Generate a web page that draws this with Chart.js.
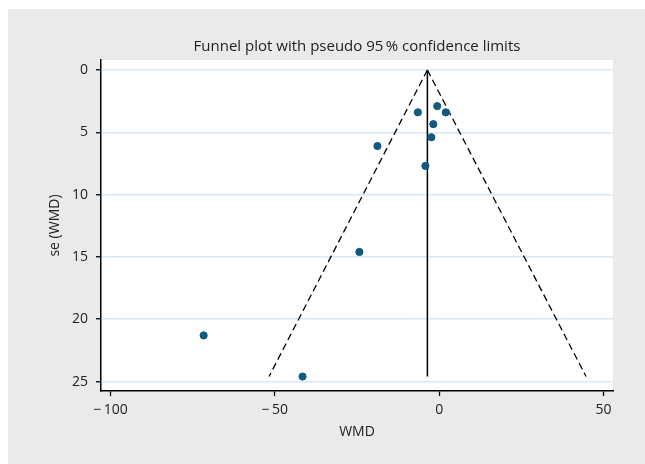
<!DOCTYPE html>
<html>
<head>
<meta charset="utf-8">
<script src="https://cdn.jsdelivr.net/npm/chart.js@4"></script>
<style>
  body { margin: 0; background: #fff; }
  canvas { display: block; }
</style>
</head>
<body>
<canvas id="funnelChart" width="645" height="464"></canvas>
<script>
// study estimates
var studyWmd = [-71.7, -41.6, -24.3, -18.8, -6.5, -0.6, 2.0, -1.8, -2.4, -4.2];
var studySe  = [21.3, 24.6, 14.6, 6.1, 3.4, 2.9, 3.4, 4.35, 5.4, 7.7];

// pooled estimate line and pseudo 95% limits
var pooledX = [-3.6, -3.6];
var pooledY = [0, 24.6];
var lowerX = [-3.6, -51.8];
var lowerY = [0, 24.6];
var upperX = [-3.6, 44.7];
var upperY = [0, 24.6];

var yTicks = [0, 5, 10, 15, 20, 25];
var xTicks = [-100, -50, 0, 50];
var xTickLabels = ['\u2212\u2009100', '\u2212\u200950', '0', '50'];

var titleText = 'Funnel plot with pseudo 95\u2009% confidence limits';
var xTitle = 'WMD';
var yTitle = 'se (WMD)';

var fontFamily = '"Open Sans", "DejaVu Sans", sans-serif';

function toPoints(xs, ys) {
    return xs.map(function (x, i) { return { x: x, y: ys[i] }; });
}

var backgroundPlugin = {
    id: 'stataBackground',
    beforeDraw: function (chart) {
        var ctx = chart.ctx;
        var a = chart.chartArea;
        ctx.save();
        ctx.fillStyle = '#ffffff';
        ctx.fillRect(0, 0, chart.width, chart.height);
        ctx.fillStyle = '#eaeaea';
        ctx.fillRect(8, 9, chart.width - 8, chart.height - 9);
        ctx.fillStyle = '#ffffff';
        ctx.fillRect(a.left, a.top, a.right - a.left, a.bottom - a.top);
        ctx.restore();
    },
    afterDraw: function (chart) {
        var ctx = chart.ctx;
        var a = chart.chartArea;
        ctx.save();
        ctx.fillStyle = '#222';
        ctx.textAlign = 'center';
        ctx.textBaseline = 'middle';
        ctx.font = '15px ' + fontFamily;
        ctx.fillText(titleText, (a.left + a.right) / 2, 47);
        ctx.font = '14px ' + fontFamily;
        ctx.fillText(xTitle, (a.left + a.right) / 2, 432);
        ctx.translate(55, (a.top + a.bottom) / 2);
        ctx.rotate(-Math.PI / 2);
        ctx.fillText(yTitle, 0, 0);
        ctx.restore();
    }
};

var ctx = document.getElementById('funnelChart').getContext('2d');
var funnelChart = new Chart(ctx, {
    type: 'scatter',
    data: {
        datasets: [{
            label: 'Studies',
            data: toPoints(studyWmd, studySe),
            backgroundColor: '#0f5a7e',
            borderColor: '#0f5a7e',
            pointRadius: 3.6,
            pointHoverRadius: 3.6,
            showLine: false
        }, {
            label: 'Pooled',
            data: toPoints(pooledX, pooledY),
            showLine: true,
            borderColor: '#000',
            borderWidth: 1.5,
            pointRadius: 0
        }, {
            label: 'Lower limit',
            data: toPoints(lowerX, lowerY),
            showLine: true,
            borderColor: '#000',
            borderWidth: 1.3,
            borderDash: [7, 4],
            pointRadius: 0
        }, {
            label: 'Upper limit',
            data: toPoints(upperX, upperY),
            showLine: true,
            borderColor: '#000',
            borderWidth: 1.3,
            borderDash: [7, 4],
            pointRadius: 0
        }]
    },
    options: {
        responsive: false,
        animation: false,
        devicePixelRatio: 1,
        layout: { padding: { left: 0, top: 60, right: 32, bottom: 0 } },
        plugins: {
            legend: { display: false },
            tooltip: { enabled: false },
            title: { display: false }
        },
        scales: {
            x: {
                type: 'linear',
                min: -102.95,
                max: 52.9,
                afterFit: function (scale) { scale.height = 73; },
                afterBuildTicks: function (scale) {
                    scale.ticks = xTicks.map(function (v) { return { value: v }; });
                },
                ticks: {
                    color: '#222',
                    font: { family: fontFamily, size: 14 },
                    padding: 6,
                    maxRotation: 0,
                    callback: function (value) {
                        var i = xTicks.indexOf(value);
                        return i >= 0 ? xTickLabels[i] : '';
                    }
                },
                grid: {
                    drawOnChartArea: false,
                    tickColor: '#000',
                    tickLength: 5,
                    tickWidth: 1.3
                },
                border: { display: true, color: '#000', width: 1.5 }
            },
            y: {
                type: 'linear',
                reverse: true,
                min: -0.8,
                max: 25.76,
                afterFit: function (scale) { scale.width = 101; },
                afterBuildTicks: function (scale) {
                    scale.ticks = yTicks.map(function (v) { return { value: v }; });
                },
                ticks: {
                    color: '#222',
                    font: { family: fontFamily, size: 14 },
                    padding: 8
                },
                grid: {
                    color: '#d4eaf6',
                    lineWidth: 1.5,
                    tickColor: '#000',
                    tickLength: 5,
                    tickWidth: 1.3
                },
                border: { display: true, color: '#000', width: 1.5 }
            }
        }
    },
    plugins: [backgroundPlugin]
});
</script>
</body>
</html>
